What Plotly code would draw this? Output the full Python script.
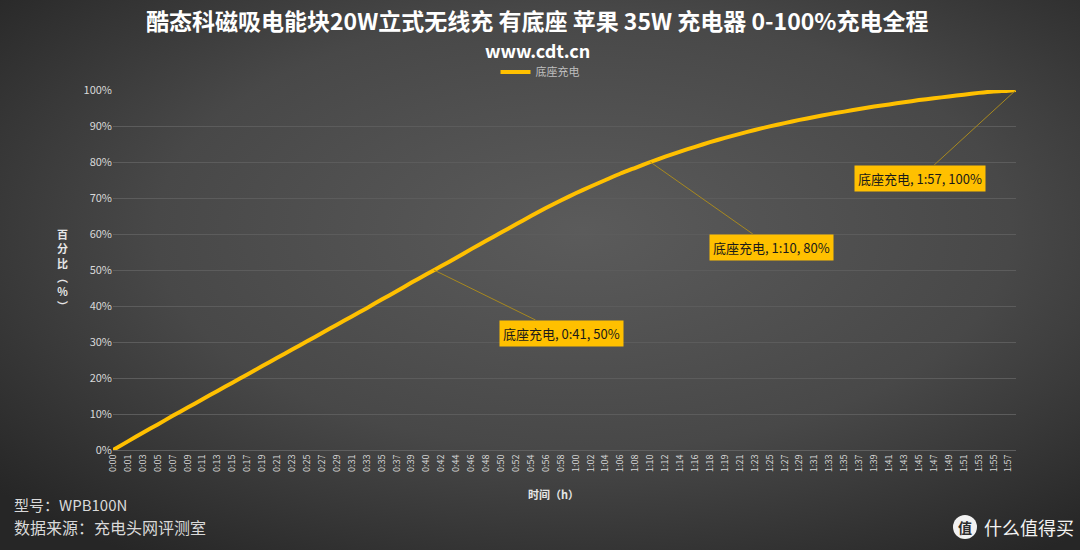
import base64
import plotly.graph_objects as go

# ---------------- data ----------------
tick_labels = [
    "0:00", "0:01", "0:03", "0:05", "0:07", "0:09", "0:11", "0:13", "0:15", "0:17",
    "0:19", "0:21", "0:23", "0:25", "0:27", "0:29", "0:31", "0:33", "0:35", "0:37",
    "0:39", "0:40", "0:42", "0:44", "0:46", "0:48", "0:50", "0:52", "0:54", "0:56",
    "0:58", "1:00", "1:02", "1:04", "1:06", "1:08", "1:10", "1:12", "1:14", "1:16",
    "1:18", "1:19", "1:21", "1:23", "1:25", "1:27", "1:29", "1:31", "1:33", "1:35",
    "1:37", "1:39", "1:41", "1:43", "1:45", "1:47", "1:49", "1:51", "1:53", "1:55",
    "1:57",
]
tick_index = list(range(0, 121, 2))          # category index of each labelled sample

sample_index = list(range(0, 121, 2)) + [121]
percent = [
    0.0, 2.4, 4.8, 7.1, 9.5, 11.8, 14.1, 16.4, 18.7, 21.0,
    23.3, 25.6, 27.9, 30.2, 32.5, 34.8, 37.1, 39.4, 41.8, 44.1,
    46.5, 48.8, 51.1, 53.4, 55.8, 58.1, 60.4, 62.7, 65.0, 67.2,
    69.3, 71.3, 73.2, 75.0, 76.8, 78.4, 80.0, 81.5, 82.9, 84.2,
    85.5, 86.7, 87.8, 88.9, 89.9, 90.8, 91.7, 92.5, 93.3, 94.0,
    94.7, 95.4, 96.0, 96.6, 97.2, 97.7, 98.2, 98.7, 99.2, 99.6,
    99.8, 100.0,
]
series_name = "底座充电"

# labelled points: (category index, percent, label text)
callouts = [
    (43, 50, "底座充电, 0:41, 50%"),
    (72, 80, "底座充电, 1:10, 80%"),
    (121, 100, "底座充电, 1:57, 100%"),
]
callout_offsets = [(128, 63), (121, 85), (-96, 88)]

title_text = "酷态科磁吸电能块20W立式无线充 有底座 苹果 35W 充电器 0-100%充电全程"
subtitle_text = "www.cdt.cn"

# ---------------- figure ----------------
W, H = 1080, 550
L, R, T, B = 113, 64, 90, 100
pw, ph = W - L - R, H - T - B

FONT = "Noto Sans CJK SC, Microsoft YaHei, sans-serif"

svg = (
    f'<svg xmlns="http://www.w3.org/2000/svg" width="{W}" height="{H}">'
    '<defs><radialGradient id="g" cx="54%" cy="42%" r="72%">'
    '<stop offset="0" stop-color="#5b5b5b"/>'
    '<stop offset="0.55" stop-color="#484848"/>'
    '<stop offset="1" stop-color="#262626"/>'
    '</radialGradient></defs>'
    f'<rect width="{W}" height="{H}" fill="url(#g)"/></svg>'
)
bg_uri = "data:image/svg+xml;base64," + base64.b64encode(svg.encode()).decode()

fig = go.Figure()
fig.add_trace(go.Scatter(
    x=sample_index, y=percent, mode="lines", name=series_name,
    line=dict(color="#FFC000", width=4, shape="spline", smoothing=0.6),
    hoverinfo="skip",
))

annotations = []
for (cx, cy, txt), (ax, ay) in zip(callouts, callout_offsets):
    annotations.append(dict(
        x=cx, y=cy, xref="x", yref="y", text=txt, showarrow=True,
        ax=ax, ay=ay, arrowhead=0, arrowwidth=1, arrowcolor="#A8891F",
        bgcolor="#FFC000", borderpad=3, font=dict(family=FONT, size=13, color="#1a1a1a"),
    ))

# titles and footers: (text, x_px, y_px_from_top, anchor, size, color)
page_texts = [
    (f"<b>{title_text}</b>", 537, 20, "center", 23, "#ffffff"),
    (f"<b>{subtitle_text}</b>", 537, 50, "center", 18, "#ffffff"),
    ("<b>百<br>分<br>比<br>︵<br>%<br>︶</b>", 62, 270, "center", 11, "#e6e6e6"),
    ("<b>时间（h）</b>", 553, 494, "center", 11, "#e6e6e6"),
    ("型号：WPB100N", 12, 505, "left", 15, "#d9d9d9"),
    ("数据来源：充电头网评测室", 12, 527, "left", 16, "#d9d9d9"),
    ("<b>值</b>", 965, 527, "center", 14, "#2d2d2d"),
    ("什么值得买", 982, 527, "left", 18, "#f2f2f2"),
]
for txt, xp, yp, anc, size, col in page_texts:
    annotations.append(dict(
        text=txt, x=(xp - L) / pw, y=(H - yp - B) / ph, xref="paper", yref="paper",
        xanchor=anc, yanchor="middle", showarrow=False,
        font=dict(family=FONT, size=size, color=col),
    ))

fig.update_layout(
    width=W, height=H,
    margin=dict(l=L, r=R, t=T, b=B, autoexpand=False),
    paper_bgcolor="#3a3a3a", plot_bgcolor="rgba(0,0,0,0)",
    font=dict(family=FONT, color="#d9d9d9"),
    showlegend=True,
    legend=dict(orientation="h", x=(540 - L) / pw, xanchor="center",
                y=1 + (90 - 72) / ph, yanchor="middle",
                font=dict(family=FONT, size=11, color="#bfbfbf"),
                bgcolor="rgba(0,0,0,0)", itemwidth=30),
    xaxis=dict(range=[0, 121], tickmode="array", tickvals=tick_index, ticktext=tick_labels,
               tickangle=-90, tickfont=dict(family=FONT, size=9, color="#d9d9d9"),
               showgrid=False, zeroline=False, showline=True, linecolor="#5f5f5f",
               linewidth=1, ticks="", fixedrange=True),
    yaxis=dict(range=[0, 100], dtick=10, ticksuffix="%",
               tickfont=dict(family=FONT, size=11, color="#d9d9d9"),
               showgrid=True, gridcolor="#5c5c5c", gridwidth=1, zeroline=False,
               showline=False, ticks="", fixedrange=True),
    annotations=annotations,
    shapes=[dict(type="circle", xref="paper", yref="paper",
                 x0=(953 - L) / pw, x1=(977 - L) / pw,
                 y0=(H - 539 - B) / ph, y1=(H - 515 - B) / ph,
                 fillcolor="#f2f2f2", line=dict(width=0), layer="below")],
    images=[dict(source=bg_uri, xref="paper", yref="paper",
                 x=-L / pw, y=1 + T / ph, sizex=W / pw, sizey=H / ph,
                 xanchor="left", yanchor="top", sizing="stretch", layer="below")],
)

fig.write_html("out.html", config={"displayModeBar": False})
